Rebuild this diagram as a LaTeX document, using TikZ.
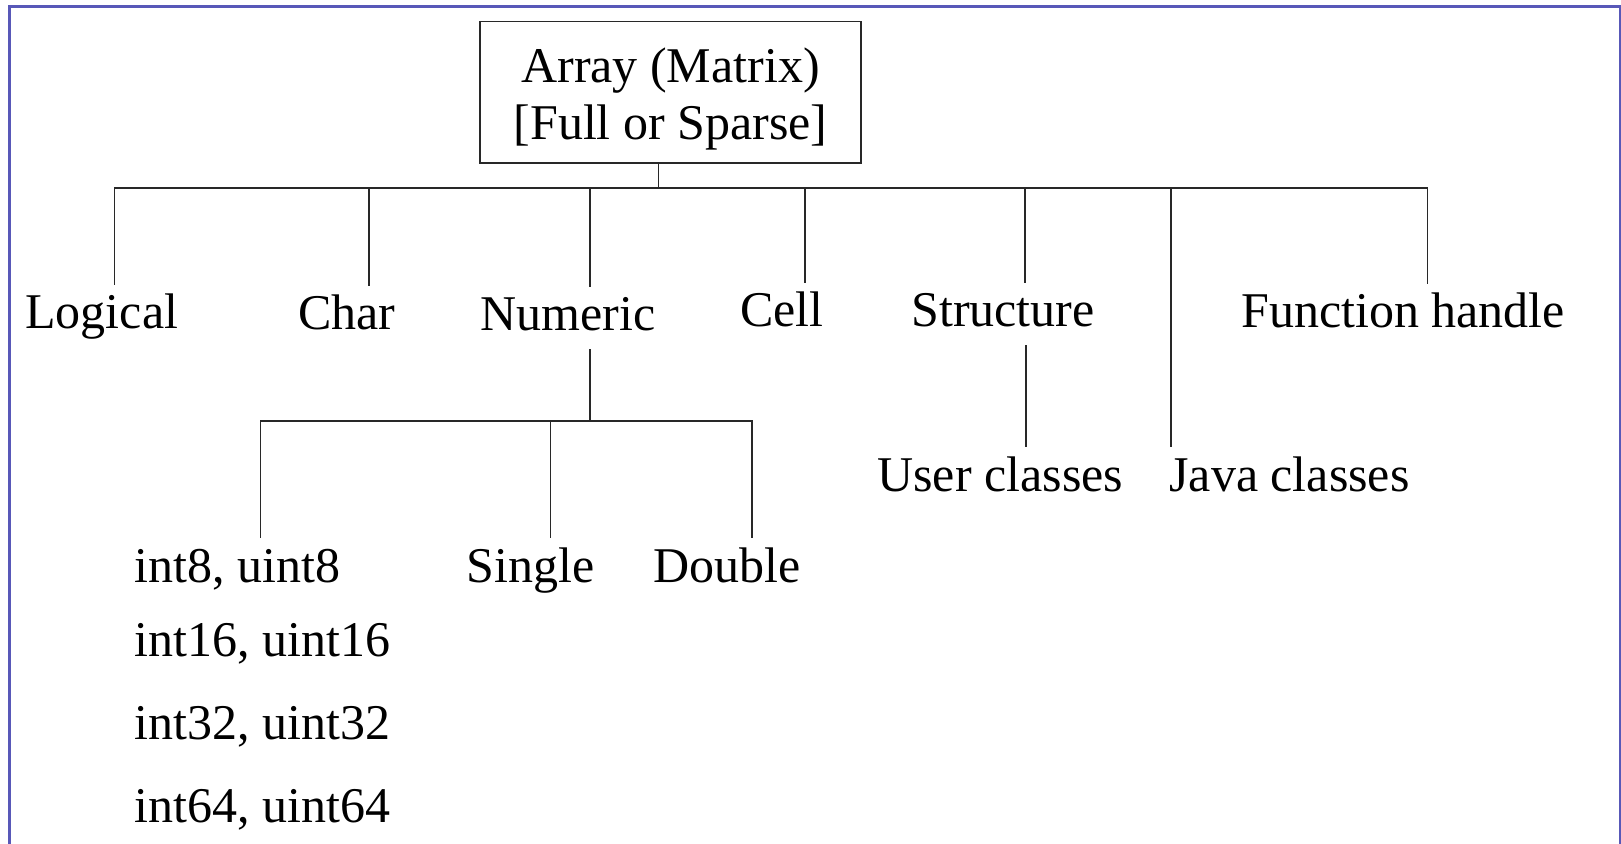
\documentclass[tikz,border=0pt]{standalone}
\usepackage{fontspec}
\setmainfont{Liberation Serif}
\usetikzlibrary{calc}
\definecolor{frameblue}{RGB}{88,88,184}
\definecolor{linegray}{RGB}{40,40,40}

\begin{document}
\begin{tikzpicture}[x=0.5pt,y=-0.5pt,
    lbl/.style={anchor=base west,inner xsep=0pt,inner ysep=3pt,text height=19pt,text depth=6pt,font=\fontsize{25pt}{28.5pt}\selectfont},
    link/.style={draw=linegray,line width=0.65pt}]
  \useasboundingbox (0,0) rectangle (1621,844);
  \draw[frameblue,line width=1.5pt] (9.5,7) rectangle (1620.5,870);
  % root
  \node[draw=linegray,line width=0.7pt,minimum width=190.5pt,minimum height=70.6pt,align=center,inner sep=0pt,
        font=\fontsize{25pt}{28.5pt}\selectfont] (root) at (670.5,92.3) {\rule{0pt}{24pt}Array (Matrix)\\{[Full or Sparse]}};
  % first level
  \node[lbl] (logical) at (25,329) {Logical};
  \node[lbl] (char) at (298,330) {Char};
  \node[lbl] (numeric) at (480,331) {Numeric};
  \node[lbl] (cell) at (740,327) {Cell};
  \node[lbl] (structure) at (911,327) {Structure};
  \node[lbl] (function) at (1241,328) {Function handle};
  \node[lbl] (userc) at (877,491) {User classes};
  \node[lbl] (javac) at (1169,491) {Java classes};
  % numeric types
  \node[lbl] (int8) at (134,582) {int8, uint8};
  \node[lbl] (single) at (466,582) {Single};
  \node[lbl] (double) at (653,582) {Double};
  \node[lbl] (int16) at (134,656) {int16, uint16};
  \node[lbl] (int32) at (134,739) {int32, uint32};
  \node[lbl] (int64) at (134,822) {int64, uint64};
  % connectors
  \coordinate (bus) at (658.5,188);
  \draw[link] (root.south -| bus) -- (bus);
  \foreach \n/\dx in {logical/13,char/22,numeric/22,cell/23,structure/22,function/24}
    \draw[link] ($(\n.north)+(\dx,0)$) |- (bus);
  \draw[link] ($(javac.north west)+(2,0)$) |- (bus);
  \coordinate (sub) at (590,421);
  \draw[link] (numeric.south -| sub) -- (sub);
  \foreach \n/\dx in {int8/23,single/20,double/25}
    \draw[link] ($(\n.north)+(\dx,0)$) |- (sub);
  \draw[link] ($(structure.south)+(23,0)$) coordinate (st) -- (st |- userc.north);
\end{tikzpicture}
\end{document}
